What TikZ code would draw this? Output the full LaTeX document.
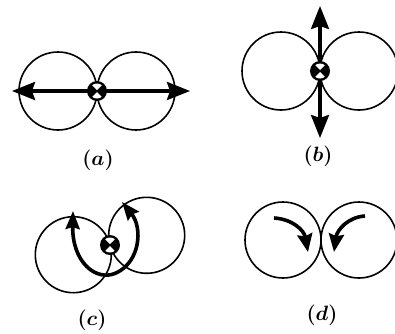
\documentclass[tikz,border=0pt]{standalone}
\usetikzlibrary{arrows.meta}
\begin{document}
\begin{tikzpicture}[x=1pt,y=-1pt,
  ring/.style={line width=1.6pt},
  bigarrow/.style={line width=3.5pt,-{Stealth[length=23pt,width=18pt,inset=3pt]}},
  midarrow/.style={line width=3.6pt,{Stealth[length=18pt,width=14pt,inset=2pt]}-{Stealth[length=18pt,width=14pt,inset=2pt]}},
  curlarrow/.style={line width=3.6pt,-{Stealth[length=18pt,width=15pt,inset=2pt]}},
  lab/.style={font=\fontsize{20}{24}\selectfont\boldmath, inner sep=0pt},
  xmark/.pic={
    \fill[black] (0,0) circle (10pt);
    \begin{scope}
      \clip (0,0) circle (7.5pt);
      \fill[white] (0,-1) -- (-10,-11) -- (10,-11) -- cycle;
      \fill[white] (0,1) -- (-10,11) -- (10,11) -- cycle;
    \end{scope}
  }
]
\useasboundingbox (0,0) rectangle (395,333);

% (a)
\coordinate (aL) at (58,91);
\coordinate (aR) at (136,91);
\coordinate (aM) at (97,91);
\coordinate (aA1) at (12,91);
\coordinate (aA2) at (190,91);
\draw[ring] (aL) circle[radius=39pt];
\draw[ring] (aR) circle[radius=39pt];
\draw[bigarrow] (aM) -- (aA1);
\draw[bigarrow] (aM) -- (aA2);
\pic at (aM) {xmark};
\node[lab] (la) at (98,160) {$(a)$};

% (b)
\coordinate (bL) at (281,71);
\coordinate (bR) at (359,71);
\coordinate (bM) at (320,71);
\coordinate (bA1) at (320,6);
\coordinate (bA2) at (320,138);
\draw[ring] (bL) circle[radius=39pt];
\draw[ring] (bR) circle[radius=39pt];
\draw[bigarrow] (bM) -- (bA1);
\draw[bigarrow] (bM) -- (bA2);
\pic at (bM) {xmark};
\node[lab] (lb) at (318,156) {$(b)$};

% (c)
\coordinate (cL) at (73.3,254.7);
\coordinate (cR) at (146.7,235.3);
\coordinate (cM) at (110,245);
\coordinate (cS) at (73,211);
\coordinate (cB) at (116,273);
\coordinate (cE) at (122,202);
\draw[ring] (cL) circle[radius=38pt];
\draw[ring] (cR) circle[radius=38pt];
\draw[midarrow] (cS) .. controls (72,262) and (96,282) .. (cB)
  .. controls (140,262) and (143,228) .. (cE);
\pic at (cM) {xmark};
\node[lab] (lc) at (92,320) {$(c)$};

% (d)
\coordinate (dL) at (283,240);
\coordinate (dR) at (359,240);
\coordinate (dS1) at (274,218);
\coordinate (dE1) at (308,252);
\coordinate (dS2) at (365,216);
\coordinate (dE2) at (334,252);
\draw[ring] (dL) circle[radius=38pt];
\draw[ring] (dR) circle[radius=38pt];
\draw[curlarrow] (dS1) .. controls (292,219) and (304,230) .. (dE1);
\draw[curlarrow] (dS2) .. controls (348,217) and (337,230) .. (dE2);
\node[lab] (ld) at (322,315) {$(d)$};
\end{tikzpicture}
\end{document}
